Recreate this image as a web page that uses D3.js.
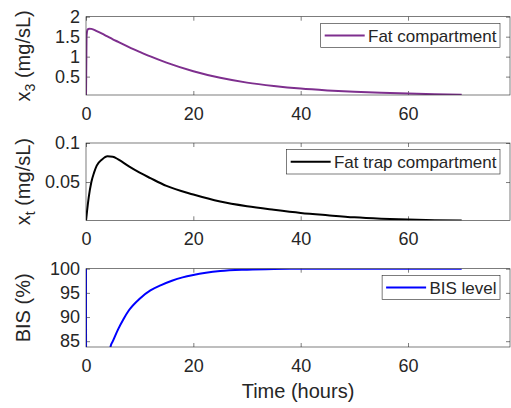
<!DOCTYPE html>
<html>
<head>
<meta charset="utf-8">
<script src="https://cdn.jsdelivr.net/npm/d3@7"></script>
<style>
  html, body { margin: 0; padding: 0; background: #fff; }
  svg { display: block; }
  text { font-family: "Liberation Sans", Arial, Helvetica, sans-serif; fill: #262626; }
</style>
</head>
<body>
<svg id="chart" width="511" height="408"></svg>
<script>
// ---------------- data ----------------
const xTicks = [0, 20, 40, 60];
const xLabel = "Time (hours)";

// Fat compartment x3 (mg/sL)
const fatTime = [0, 0.1, 0.3, 0.6, 1, 2, 3, 4, 5, 6, 8, 10, 12, 15, 20, 25, 30, 35, 40, 45, 50, 55, 60, 65, 70];
const fatValues = [0, 1.5, 1.68, 1.70, 1.695, 1.64, 1.575, 1.505, 1.435, 1.37, 1.24, 1.12, 1.005, 0.85, 0.635, 0.47, 0.35, 0.265, 0.20, 0.155, 0.12, 0.095, 0.075, 0.06, 0.048];

// Fat trap compartment xt (mg/sL)
const trapTime = [0, 0.2, 0.5, 1, 1.5, 2, 3, 4, 5, 6, 8, 10, 12, 15, 20, 25, 30, 35, 40, 45, 50, 55, 60, 65, 70];
const trapValues = [0, 0.013, 0.030, 0.050, 0.062, 0.071, 0.079, 0.083, 0.0825, 0.079, 0.070, 0.062, 0.055, 0.045, 0.034, 0.025, 0.019, 0.0145, 0.0105, 0.0075, 0.0048, 0.0031, 0.002, 0.0012, 0.0006];

// BIS level (%)
const bisTime = [0, 0.05, 1, 2, 3, 4, 4.6, 5, 6, 7, 8, 10, 12, 14, 16, 18, 20, 25, 30, 35, 40, 50, 60, 70];
const bisValues = [100, 40, 45, 55, 66, 77, 84, 85, 87.5, 89.6, 91.4, 93.8, 95.5, 96.6, 97.5, 98.2, 98.7, 99.5, 99.8, 99.95, 100, 100, 100, 100];

const yTicks1 = [0.5, 1, 1.5, 2];
const yTickLabels1 = ["0.5", "1", "1.5", "2"];
const yTicks2 = [0.05, 0.1];
const yTickLabels2 = ["0.05", "0.1"];
const yTicks3 = [85, 90, 95, 100];
const yTickLabels3 = ["85", "90", "95", "100"];

const seriesNames = ["Fat compartment", "Fat trap compartment", "BIS level"];
const seriesColors = ["#7E2F8E", "#000000", "#0000FF"];

// ---------------- layout ----------------
const svg = d3.select("#chart");
const x = d3.scaleLinear().domain([0, 79]).range([86, 510]);

const panels = [
  { top: 16.7, bottom: 95, domain: [0.04, 2], time: fatTime, values: fatValues,
    ticks: yTicks1, labels: yTickLabels1, ylab: ["x", "3", " (mg/sL)"] },
  { top: 143, bottom: 220.3, domain: [0.001, 0.1], time: trapTime, values: trapValues,
    ticks: yTicks2, labels: yTickLabels2, ylab: ["x", "t", " (mg/sL)"] },
  { top: 268.7, bottom: 347, domain: [83.8, 100], time: bisTime, values: bisValues,
    ticks: yTicks3, labels: yTickLabels3, ylab: ["BIS (%)"] }
];

const axisColor = "#262626";

panels.forEach((p, i) => {
  const y = d3.scaleLinear().domain(p.domain).range([p.bottom, p.top]);
  const g = svg.append("g");

  // clip
  const clipId = "clip" + i;
  svg.append("clipPath").attr("id", clipId)
    .append("rect").attr("x", x.range()[0]).attr("y", p.top)
    .attr("width", x.range()[1] - x.range()[0]).attr("height", p.bottom - p.top);

  // axes
  const fmtY = d => p.labels[p.ticks.indexOf(d)];
  const ax = [
    g.append("g").attr("transform", `translate(0,${p.bottom})`)
      .call(d3.axisBottom(x).tickValues(xTicks).tickSize(-4).tickPadding(12).tickFormat(d3.format("d"))),
    g.append("g").attr("transform", `translate(0,${p.top})`)
      .call(d3.axisTop(x).tickValues(xTicks).tickSize(-4).tickFormat("")),
    g.append("g").attr("transform", `translate(${x.range()[0]},0)`)
      .call(d3.axisLeft(y).tickValues(p.ticks).tickSize(-4).tickPadding(6).tickFormat(fmtY)),
    g.append("g").attr("transform", `translate(${x.range()[1]},0)`)
      .call(d3.axisRight(y).tickValues(p.ticks).tickSize(-4).tickFormat(""))
  ];
  ax.forEach(a => {
    a.select(".domain").remove();
    a.selectAll(".tick line").attr("stroke", axisColor).attr("stroke-width", 0.6);
    a.selectAll(".tick text").attr("font-size", 18).attr("fill", axisColor)
      .style("font-family", '"Liberation Sans", Arial, Helvetica, sans-serif');
  });

  // line
  const line = d3.line().x((d, k) => x(p.time[k])).y(d => y(d)).curve(d3.curveMonotoneX);
  g.append("path").datum(p.values)
    .attr("clip-path", `url(#${clipId})`)
    .attr("fill", "none").attr("stroke", seriesColors[i]).attr("stroke-width", 2)
    .attr("stroke-linejoin", "round")
    .attr("d", line);

  // box
  g.append("rect").attr("x", x.range()[0]).attr("y", p.top)
    .attr("width", x.range()[1] - x.range()[0]).attr("height", p.bottom - p.top)
    .attr("fill", "none").attr("stroke", axisColor).attr("stroke-width", 0.6);

  // y label
  const cy = (p.top + p.bottom) / 2;
  const lab = g.append("text").attr("transform", `translate(30,${cy}) rotate(-90)`)
    .attr("text-anchor", "middle").attr("font-size", 20);
  if (p.ylab.length === 1) {
    lab.text(p.ylab[0]);
  } else {
    lab.append("tspan").text(p.ylab[0]);
    lab.append("tspan").attr("font-size", 14).attr("dy", 5).text(p.ylab[1]);
    lab.append("tspan").attr("dy", -5).text(p.ylab[2]);
  }

  // legend
  const lg = g.append("g");
  const lt = lg.append("text").attr("font-size", 17).attr("dominant-baseline", "central").text(seriesNames[i]);
  const tw = lt.node().getComputedTextLength();
  const right = 500, lh = 24.4, ltop = p.top + 6.6;
  const left = right - (4 + 40 + 3.3 + tw + 3.5);
  lg.insert("rect", "text").attr("x", left).attr("y", ltop).attr("width", right - left).attr("height", lh)
    .attr("fill", "#fff").attr("stroke", axisColor).attr("stroke-width", 0.6);
  lg.append("line").attr("x1", left + 4).attr("x2", left + 44)
    .attr("y1", ltop + lh / 2).attr("y2", ltop + lh / 2)
    .attr("stroke", seriesColors[i]).attr("stroke-width", 2);
  lt.attr("x", left + 47.3).attr("y", ltop + lh / 2 + 0.5);
});

// x label
svg.append("text").attr("x", (x.range()[0] + x.range()[1]) / 2).attr("y", 398)
  .attr("text-anchor", "middle").attr("font-size", 20).text(xLabel);
</script>
</body>
</html>
